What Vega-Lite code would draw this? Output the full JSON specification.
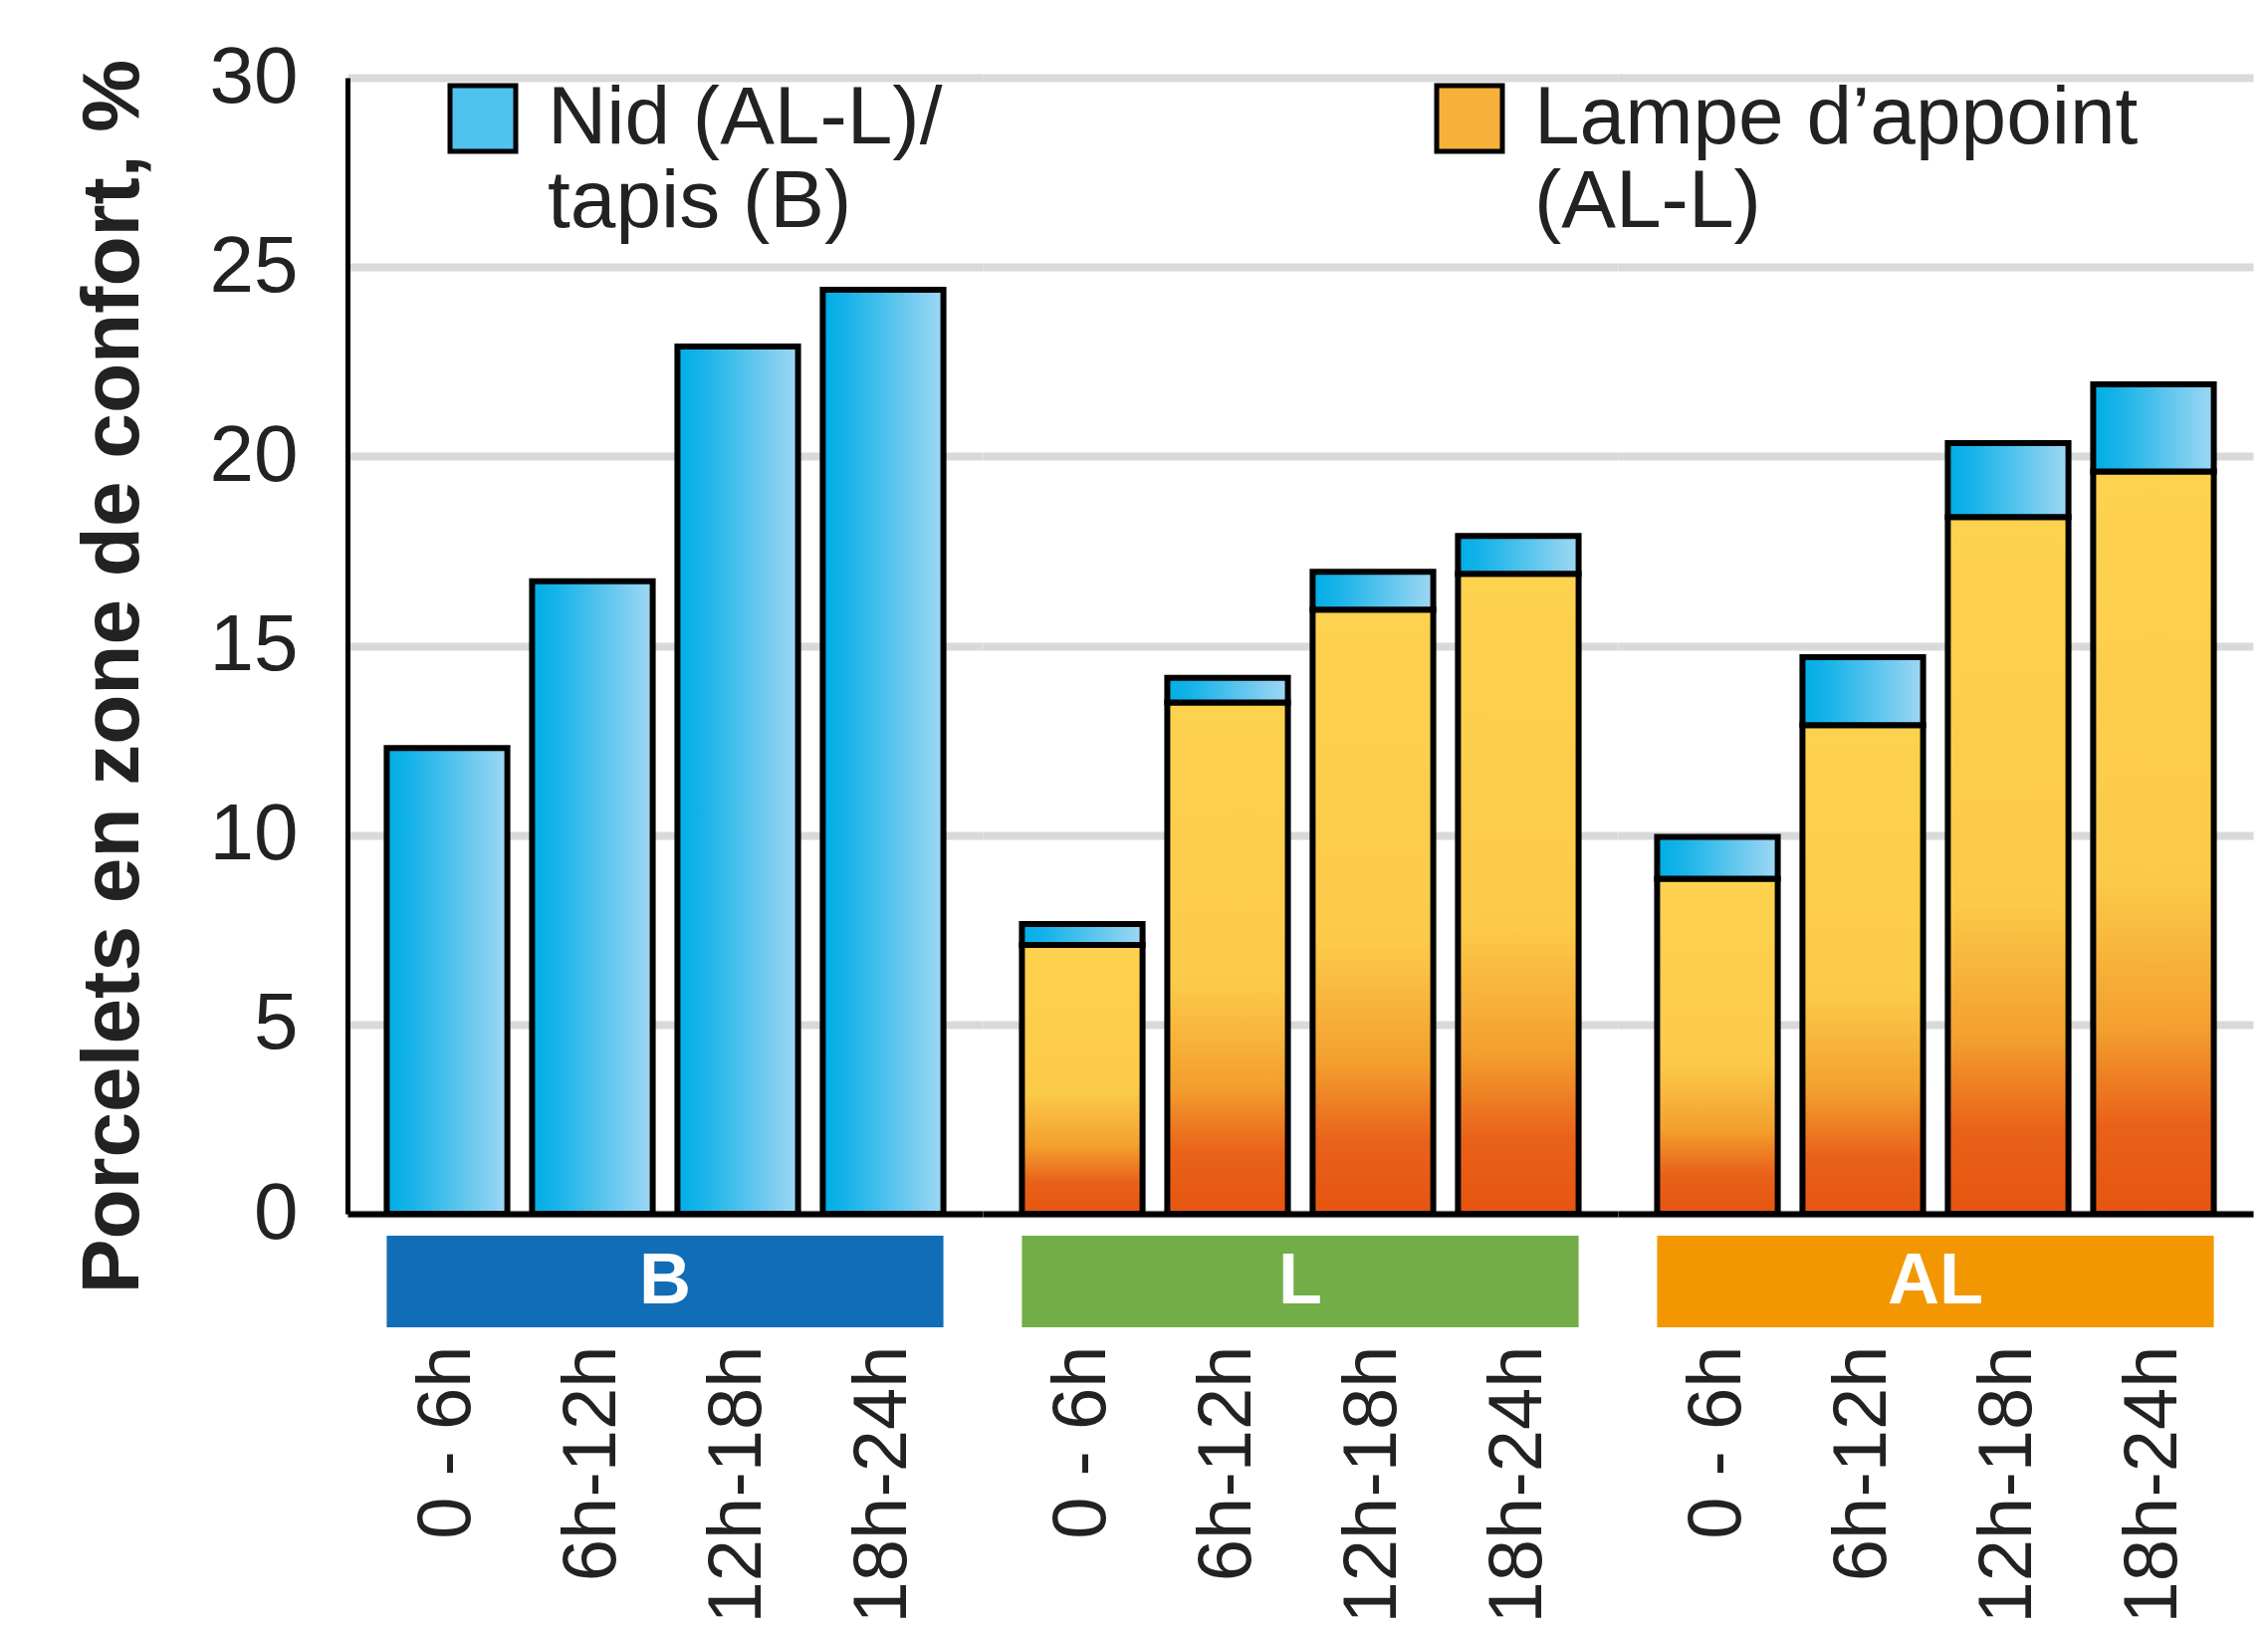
{
  "$schema": "https://vega.github.io/schema/vega-lite/v6.json",
  "background": "white",
  "padding": {"left": 72, "top": 38, "right": 10, "bottom": 0},
  "config": {"font": "Liberation Sans", "view": {"stroke": null}},
  "datasets": {
    "bars": [
      {"group": "B", "time": "0 - 6h", "series": "Nid", "value": 12.3},
      {"group": "B", "time": "6h-12h", "series": "Nid", "value": 16.7},
      {"group": "B", "time": "12h-18h", "series": "Nid", "value": 22.9},
      {"group": "B", "time": "18h-24h", "series": "Nid", "value": 24.4},
      {"group": "L", "time": "0 - 6h", "series": "Lampe", "value": 7.1},
      {"group": "L", "time": "6h-12h", "series": "Lampe", "value": 13.5},
      {"group": "L", "time": "12h-18h", "series": "Lampe", "value": 15.95},
      {"group": "L", "time": "18h-24h", "series": "Lampe", "value": 16.9},
      {"group": "L", "time": "0 - 6h", "series": "Nid", "value": 0.55},
      {"group": "L", "time": "6h-12h", "series": "Nid", "value": 0.65},
      {"group": "L", "time": "12h-18h", "series": "Nid", "value": 1.0},
      {"group": "L", "time": "18h-24h", "series": "Nid", "value": 1.0},
      {"group": "AL", "time": "0 - 6h", "series": "Lampe", "value": 8.85},
      {"group": "AL", "time": "6h-12h", "series": "Lampe", "value": 12.9},
      {"group": "AL", "time": "12h-18h", "series": "Lampe", "value": 18.4},
      {"group": "AL", "time": "18h-24h", "series": "Lampe", "value": 19.6},
      {"group": "AL", "time": "0 - 6h", "series": "Nid", "value": 1.1},
      {"group": "AL", "time": "6h-12h", "series": "Nid", "value": 1.8},
      {"group": "AL", "time": "12h-18h", "series": "Nid", "value": 1.95},
      {"group": "AL", "time": "18h-24h", "series": "Nid", "value": 2.3}
    ],
    "strips": [
      {"group": "B", "first": "0 - 6h", "last": "18h-24h"},
      {"group": "L", "first": "0 - 6h", "last": "18h-24h"},
      {"group": "AL", "first": "0 - 6h", "last": "18h-24h"}
    ]
  },
  "resolve": {"scale": {"x": "independent", "y": "independent"}},
  "spacing": 0,
  "hconcat": [
    {
      "spacing": 22,
      "bounds": "flush",
      "resolve": {"scale": {"x": "independent", "y": "independent"}},
      "vconcat": [
        {
          "width": 638, "height": 1141,
          "data": {"name": "bars"},
          "transform": [{"filter": "datum.group == 'B'"}, {"stack": "value", "groupby": ["time"], "sort": [{"field": "series", "order": "ascending"}], "as": ["v0", "v1"]}],
          "encoding": {
            "x": {"field": "time", "type": "nominal", "sort": ["0 - 6h", "6h-12h", "12h-18h", "18h-24h"],
              "scale": {"domain": ["0 - 6h", "6h-12h", "12h-18h", "18h-24h"], "paddingInner": 0.17, "paddingOuter": 0.27},
              "axis": {"labels": false, "ticks": false, "title": null, "domainColor": "black", "domainWidth": 6, "grid": false}},
            "y": {"field": "v1", "type": "quantitative",
              "scale": {"domain": [0, 30], "nice": false},
              "axis": {"title": "Porcelets en zone de confort, %", "titleFontSize": 82, "titleFontWeight": "bold", "titleColor": "#222222", "titlePadding": 55, "titleY": 601,
                "labelFontSize": 80, "labelColor": "#222222", "labelPadding": 50, "ticks": false, "domain": true, "domainColor": "black", "domainWidth": 5,
                "grid": true, "gridColor": "#d9d9d9", "gridWidth": 8, "values": [0, 5, 10, 15, 20, 25, 30]}}
          },
          "layer": [
            {"transform": [{"filter": "datum.series == 'Nid'"}],
             "mark": {"type": "bar", "stroke": "black", "strokeWidth": 6, "strokeJoin": "miter",
               "fill": {"gradient": "linear", "x1": 0, "y1": 0, "x2": 1, "y2": 0, "stops": [{"offset": 0, "color": "#00aee6"}, {"offset": 0.2, "color": "#16b3e9"}, {"offset": 1, "color": "#a0d7f3"}]}},
             "encoding": {"y2": {"field": "v0"}}},
            {"mark": {"type": "point", "opacity": 0, "filled": true},
             "encoding": {
               "color": {"field": "series", "type": "nominal",
                 "scale": {"domain": ["Nid", "Lampe"], "range": ["#4fc3ee", "#f7b13a"]},
                 "legend": {"orient": "none", "legendX": 95, "legendY": 0, "direction": "horizontal", "columns": 2, "columnPadding": 486, "padding": 0,
                   "title": null, "symbolType": "square", "symbolSize": 4356, "symbolStrokeColor": "black", "symbolStrokeWidth": 5, "symbolOpacity": 1,
                   "labelFontSize": 82, "labelColor": "#222222", "labelLimit": 1000, "labelOffset": 24,
                   "labelExpr": "datum.value == 'Nid' ? ['Nid (AL-L)/', 'tapis (B)'] : ['Lampe d\u2019appoint', '(AL-L)']",
                   "encode": {"labels": {"lineHeight": {"value": 102}}}}}
             }}
          ]
        },
        {
          "width": 638, "height": 92,
          "data": {"name": "strips"},
          "transform": [{"filter": "datum.group == 'B'"}],
          "layer": [
            {"mark": {"type": "rect", "color": "#116db5"},
             "encoding": {
               "x": {"field": "first", "type": "nominal", "bandPosition": 0,
                 "scale": {"domain": ["0 - 6h", "6h-12h", "12h-18h", "18h-24h"], "paddingInner": 0.17, "paddingOuter": 0.27},
                 "axis": {"title": null, "domain": false, "ticks": false, "labelAngle": 270, "labelFontSize": 76, "labelPadding": 18, "labelColor": "#222222", "labelLimit": 1000}},
               "x2": {"field": "last", "bandPosition": 1}}},
            {"mark": {"type": "text", "color": "white", "fontSize": 72, "fontWeight": "bold", "align": "center", "baseline": "middle"},
             "encoding": {"text": {"field": "group"}}}
          ]
        }
      ]
    },
    {
      "spacing": 22,
      "bounds": "flush",
      "resolve": {"scale": {"x": "independent", "y": "independent"}},
      "vconcat": [
        {
          "width": 638, "height": 1141,
          "data": {"name": "bars"},
          "transform": [{"filter": "datum.group == 'L'"}, {"stack": "value", "groupby": ["time"], "sort": [{"field": "series", "order": "ascending"}], "as": ["v0", "v1"]}],
          "encoding": {
            "x": {"field": "time", "type": "nominal", "sort": ["0 - 6h", "6h-12h", "12h-18h", "18h-24h"],
              "scale": {"domain": ["0 - 6h", "6h-12h", "12h-18h", "18h-24h"], "paddingInner": 0.17, "paddingOuter": 0.27},
              "axis": {"labels": false, "ticks": false, "title": null, "domainColor": "black", "domainWidth": 6, "grid": false}},
            "y": {"field": "v1", "type": "quantitative",
              "scale": {"domain": [0, 30], "nice": false},
              "axis": {"title": null, "labels": false, "ticks": false, "domain": false, "grid": true, "gridColor": "#d9d9d9", "gridWidth": 8, "values": [0, 5, 10, 15, 20, 25, 30]}},
            "y2": {"field": "v0"}
          },
          "layer": [
            {"transform": [{"filter": "datum.series == 'Lampe'"}],
             "mark": {"type": "bar", "stroke": "black", "strokeWidth": 6, "strokeJoin": "miter",
               "fill": {"gradient": "linear", "x1": 0, "y1": 0, "x2": 0, "y2": 1, "stops": [{"offset": 0, "color": "#fdd24f"}, {"offset": 0.55, "color": "#fcca49"}, {"offset": 0.75, "color": "#f39f2e"}, {"offset": 0.88, "color": "#e9621a"}, {"offset": 1, "color": "#e65510"}]}}},
            {"transform": [{"filter": "datum.series == 'Nid'"}],
             "mark": {"type": "bar", "stroke": "black", "strokeWidth": 6, "strokeJoin": "miter",
               "fill": {"gradient": "linear", "x1": 0, "y1": 0, "x2": 1, "y2": 0, "stops": [{"offset": 0, "color": "#00aee6"}, {"offset": 0.2, "color": "#16b3e9"}, {"offset": 1, "color": "#a0d7f3"}]}}}
          ]
        },
        {
          "width": 638, "height": 92,
          "data": {"name": "strips"},
          "transform": [{"filter": "datum.group == 'L'"}],
          "layer": [
            {"mark": {"type": "rect", "color": "#72ad48"},
             "encoding": {
               "x": {"field": "first", "type": "nominal", "bandPosition": 0,
                 "scale": {"domain": ["0 - 6h", "6h-12h", "12h-18h", "18h-24h"], "paddingInner": 0.17, "paddingOuter": 0.27},
                 "axis": {"title": null, "domain": false, "ticks": false, "labelAngle": 270, "labelFontSize": 76, "labelPadding": 18, "labelColor": "#222222", "labelLimit": 1000}},
               "x2": {"field": "last", "bandPosition": 1}}},
            {"mark": {"type": "text", "color": "white", "fontSize": 72, "fontWeight": "bold", "align": "center", "baseline": "middle"},
             "encoding": {"text": {"field": "group"}}}
          ]
        }
      ]
    },
    {
      "spacing": 22,
      "bounds": "flush",
      "resolve": {"scale": {"x": "independent", "y": "independent"}},
      "vconcat": [
        {
          "width": 638, "height": 1141,
          "data": {"name": "bars"},
          "transform": [{"filter": "datum.group == 'AL'"}, {"stack": "value", "groupby": ["time"], "sort": [{"field": "series", "order": "ascending"}], "as": ["v0", "v1"]}],
          "encoding": {
            "x": {"field": "time", "type": "nominal", "sort": ["0 - 6h", "6h-12h", "12h-18h", "18h-24h"],
              "scale": {"domain": ["0 - 6h", "6h-12h", "12h-18h", "18h-24h"], "paddingInner": 0.17, "paddingOuter": 0.27},
              "axis": {"labels": false, "ticks": false, "title": null, "domainColor": "black", "domainWidth": 6, "grid": false}},
            "y": {"field": "v1", "type": "quantitative",
              "scale": {"domain": [0, 30], "nice": false},
              "axis": {"title": null, "labels": false, "ticks": false, "domain": false, "grid": true, "gridColor": "#d9d9d9", "gridWidth": 8, "values": [0, 5, 10, 15, 20, 25, 30]}},
            "y2": {"field": "v0"}
          },
          "layer": [
            {"transform": [{"filter": "datum.series == 'Lampe'"}],
             "mark": {"type": "bar", "stroke": "black", "strokeWidth": 6, "strokeJoin": "miter",
               "fill": {"gradient": "linear", "x1": 0, "y1": 0, "x2": 0, "y2": 1, "stops": [{"offset": 0, "color": "#fdd24f"}, {"offset": 0.55, "color": "#fcca49"}, {"offset": 0.75, "color": "#f39f2e"}, {"offset": 0.88, "color": "#e9621a"}, {"offset": 1, "color": "#e65510"}]}}},
            {"transform": [{"filter": "datum.series == 'Nid'"}],
             "mark": {"type": "bar", "stroke": "black", "strokeWidth": 6, "strokeJoin": "miter",
               "fill": {"gradient": "linear", "x1": 0, "y1": 0, "x2": 1, "y2": 0, "stops": [{"offset": 0, "color": "#00aee6"}, {"offset": 0.2, "color": "#16b3e9"}, {"offset": 1, "color": "#a0d7f3"}]}}}
          ]
        },
        {
          "width": 638, "height": 92,
          "data": {"name": "strips"},
          "transform": [{"filter": "datum.group == 'AL'"}],
          "layer": [
            {"mark": {"type": "rect", "color": "#f39700"},
             "encoding": {
               "x": {"field": "first", "type": "nominal", "bandPosition": 0,
                 "scale": {"domain": ["0 - 6h", "6h-12h", "12h-18h", "18h-24h"], "paddingInner": 0.17, "paddingOuter": 0.27},
                 "axis": {"title": null, "domain": false, "ticks": false, "labelAngle": 270, "labelFontSize": 76, "labelPadding": 18, "labelColor": "#222222", "labelLimit": 1000}},
               "x2": {"field": "last", "bandPosition": 1}}},
            {"mark": {"type": "text", "color": "white", "fontSize": 72, "fontWeight": "bold", "align": "center", "baseline": "middle"},
             "encoding": {"text": {"field": "group"}}}
          ]
        }
      ]
    }
  ]
}
